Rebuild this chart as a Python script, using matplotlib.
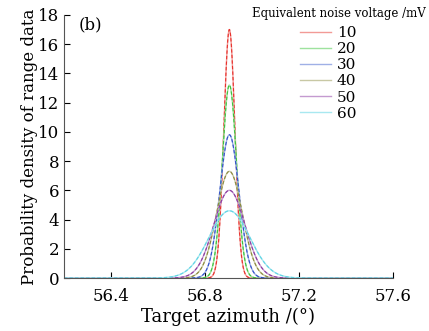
import numpy as np
import matplotlib
matplotlib.use("Agg")
import matplotlib.pyplot as plt

# Data
noise_mv = [10, 20, 30, 40, 50, 60]
centers = [56.904, 56.904, 56.904, 56.904, 56.904, 56.904]
peaks = [17.0, 13.2, 9.8, 7.3, 6.0, 4.6]
colors = ["#e8302c", "#3cc23c", "#2f4fc8", "#8c8a3c", "#8a3aa0", "#5fd4e4"]
light = ["#f29a96", "#9ee29e", "#9fb0e6", "#c8c8a4", "#c49ad0", "#a8e8f0"]
xticks = [56.4, 56.8, 57.2, 57.6]
yticks = [0, 2, 4, 6, 8, 10, 12, 14, 16, 18]

plt.rcParams['font.family'] = ['DejaVu Serif']
plt.rcParams['mathtext.fontset'] = 'dejavuserif'

W, H = 429, 331
fig = plt.figure(figsize=(W / 100, H / 100), dpi=100)
ax = fig.add_axes([0.149, 0.160, 0.767, 0.795])

x = np.linspace(56.2, 57.6, 2000)
handles = []
for n, c, p, col, lc in zip(noise_mv, centers, peaks, colors, light):
    s = 1.0 / (p * np.sqrt(2 * np.pi))
    y = p * np.exp(-0.5 * ((x - c) / s) ** 2)
    ax.plot(x, y, color=lc, lw=1.0)
    ax.plot(x, y, color=col, lw=0.8, ls=(0, (3, 2)))
    h, = ax.plot([], [], color=lc, lw=1.0, label=str(n))
    handles.append(h)

ax.set_xlim(56.2, 57.6)
ax.set_ylim(0, 18)
ax.set_xticks(xticks)
ax.set_xticklabels([f"{v:.1f}" for v in xticks])
ax.set_yticks(yticks)
ax.tick_params(direction='in', labelsize=12, length=4, width=0.8)
ax.tick_params(axis='x', pad=7)
for sp in ['top', 'right']:
    ax.spines[sp].set_visible(False)
for sp in ['left', 'bottom']:
    ax.spines[sp].set_color('#555555')
    ax.spines[sp].set_linewidth(0.8)

ax.set_xlabel("Target azimuth /(°)", fontsize=13, labelpad=2)
ax.set_ylabel("Probability density of range data", fontsize=12, labelpad=0)
ax.text(0.045, 0.995, "(b)", transform=ax.transAxes, fontsize=12, va='top', ha='left')

fig.text(252 / W, 1 - 13 / H, "Equivalent noise voltage /mV", fontsize=8.5,
         ha='left', va='center')
leg = fig.legend(handles=handles, loc='upper left',
                 bbox_to_anchor=(300 / W, 1 - 26 / H), frameon=False,
                 fontsize=11, handlelength=2.0, labelspacing=0.14,
                 handletextpad=0.4, borderpad=0, borderaxespad=0)

fig.savefig("out.png", dpi=100)
